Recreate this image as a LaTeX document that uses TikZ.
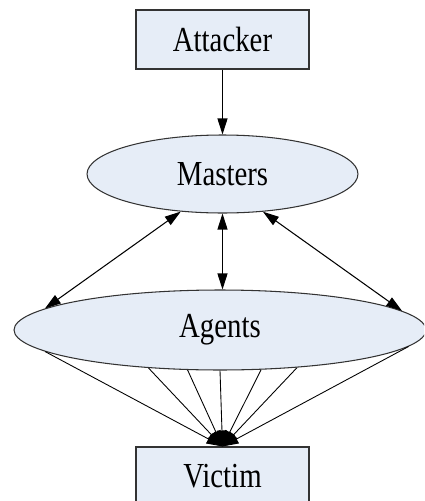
\documentclass[tikz,border=0pt]{standalone}
\usepackage{fontspec}
\setmainfont{Liberation Serif}[FakeStretch=0.82]
\usetikzlibrary{arrows.meta, shapes.geometric}
\definecolor{boxfill}{RGB}{230,237,247}

\begin{document}
\begin{tikzpicture}[x=0.02cm, y=-0.02cm,
        every node/.style={font=\fontsize{20}{24}\selectfont},
        rbox/.style={draw=black!80, line width=0.6pt, fill=boxfill, minimum width=3.46cm, minimum height=1.18cm, inner sep=0pt},
        oval/.style={draw=black!80, line width=0.6pt, ellipse, fill=boxfill, inner sep=0pt},
        >={Triangle[length=0.32cm, width=0.2cm]}]
        \useasboundingbox (0,0) rectangle (424,501);
        \clip (0,0) rectangle (424,501);
        % nodos
        \node[rbox] (attacker) at (222.5,39.5) {Attacker};
        \node[oval, minimum width=5.42cm, minimum height=1.56cm] (masters) at (222.5,174) {Masters};
        \node[oval, minimum width=8.24cm, minimum height=1.6cm] (agents) at (220,330) {Agents};
        \node[rbox] (victim) at (222.5,476.5) {Victim};
        % flechas
        \draw[->, line width=0.6pt] (attacker) -- (masters);
        \draw[<->, line width=0.6pt] (masters.south) -- (agents.north -| masters.south);
        \draw[<->, line width=0.6pt] (masters.222) -- (agents.173);
        \draw[<->, line width=0.6pt] (masters.317) -- (agents.6);
        % agentes a la victima
        \foreach \a in {187,208,231,270,316,334,355}
            \draw[->, line width=0.5pt] (agents.\a) -- (victim.north);
    \end{tikzpicture}
\end{document}
